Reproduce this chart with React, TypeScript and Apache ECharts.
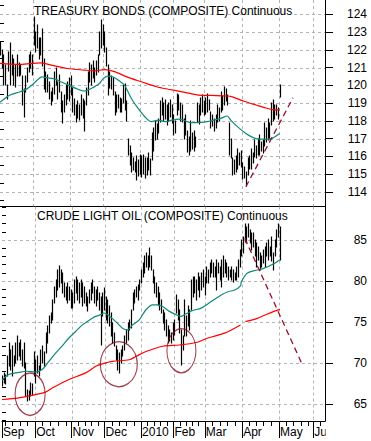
import React, { useEffect, useRef } from 'react';
import * as echarts from 'echarts';

// ---------- axis definitions ----------
const monthTicks = [0, 19.8, 41.6, 61.3, 83.1, 102.5, 121.2, 143.5, 165.5, 186];
const monthLabels = ['Sep', 'Oct', 'Nov', 'Dec', '2010', 'Feb', 'Mar', 'Apr', 'May', 'Jun'];
const weekTicks = [2, 6.4, 10.9, 15.3, 23.8, 28.7, 33.7, 38.6, 45.5, 49.5, 53.4, 57.4, 65.7, 70.1, 74.4, 78.8, 87, 90.9, 94.8, 98.6, 106.3, 110, 113.7, 117.4, 125.7, 130.2, 134.6, 139.1, 147.5, 152, 156.4, 161, 169.8, 174.2, 178.7, 183, 190];
const bondTicks = [114, 115, 116, 117, 118, 119, 120, 121, 122, 123, 124];
const bondMinorTicks = [113.5, 114.5, 115.5, 116.5, 117.5, 118.5, 119.5, 120.5, 121.5, 122.5, 123.5, 124.5];
const oilTicks = [65, 70, 75, 80, 85];
const oilMinorTicks = [63, 64, 66, 67, 68, 69, 71, 72, 73, 74, 76, 77, 78, 79, 81, 82, 83, 84, 86, 87, 88, 89];

// ---------- Treasury Bonds daily bars (high / low), one per trading day ----------
const bondHigh = [
  122.45, 122.0, 121.7, 121.15, 120.0, 121.9, 122.4, 121.7, 121.5, 121.15,
  121.7, 121.25, 121.15, 120.5, 119.8, 120.5, 120.95, 121.7, 121.9, 121.7,
  123.85, 123.0, 123.4, 122.65, 122.65, 123.2, 121.5, 120.75, 120.6, 120.2,
  119.65, 119.85, 120.75, 120.95, 120.2, 120.6, 119.65, 119.1, 119.45, 120.0,
  120.2, 120.4, 120.5, 119.85, 119.25, 118.9, 119.1, 118.9, 119.45, 119.25,
  119.1, 119.85, 120.75, 121.25, 121.15, 121.35, 120.95, 121.35, 121.7, 123.0,
  123.7, 123.4, 123.0, 122.1, 121.15, 120.75, 120.5, 120.4, 119.65, 119.45,
  119.45, 119.3, 119.25, 120.0, 120.1, 119.1, 117.0, 116.6, 116.2, 115.9,
  115.7, 116.0, 115.8, 116.1, 116.0, 116.05, 115.9, 115.9, 116.2, 115.85,
  117.3, 117.6, 118.0, 117.8, 118.1, 119.1, 119.3, 119.0, 119.2, 118.9,
  119.0, 119.2, 118.9, 118.3, 118.0, 119.5, 119.45, 119.0, 118.9, 118.1,
  118.3, 117.4, 117.1, 118.0, 117.3, 117.4, 117.1, 119.0, 118.9, 119.3,
  119.45, 119.1, 119.3, 119.5, 119.2, 118.5, 118.3, 118.1, 118.3, 118.9,
  118.7, 119.6, 119.4, 119.9, 119.8, 119.45, 117.9, 117.0, 115.9, 115.8,
  116.0, 116.4, 116.2, 116.3, 115.6, 115.4, 115.1, 115.9, 116.0, 116.4,
  116.2, 116.9, 116.6, 117.0, 117.2, 116.8, 116.9, 117.9, 117.6, 118.1,
  117.9, 119.0, 119.15, 118.9, 118.9, 118.7, 120.0,
];
const bondLow = [
  121.7, 120.95, 120.0, 120.0, 119.25, 120.8, 120.0, 120.6, 120.0, 119.9,
  120.5, 120.5, 120.6, 118.9, 118.2, 119.65, 120.2, 120.75, 120.95, 120.6,
  122.25, 121.9, 122.1, 121.5, 121.7, 121.1, 119.8, 119.65, 119.65, 119.25,
  118.9, 119.1, 119.5, 120.0, 119.25, 119.65, 118.5, 117.85, 118.5, 118.9,
  119.25, 119.1, 119.45, 118.5, 118.3, 117.95, 118.15, 118.05, 118.3, 118.15,
  117.4, 118.9, 119.45, 120.2, 120.0, 120.4, 120.2, 120.6, 120.75, 121.7,
  122.1, 122.3, 121.9, 121.1, 119.45, 119.85, 119.8, 119.45, 118.3, 118.5,
  118.7, 118.5, 118.5, 119.0, 118.6, 118.0, 116.05, 115.5, 115.1, 115.2,
  115.1, 114.65, 114.9, 115.0, 114.85, 115.0, 114.75, 114.95, 115.2, 114.95,
  115.8, 116.3, 116.9, 117.0, 117.3, 117.95, 118.3, 118.0, 118.1, 117.75,
  118.0, 118.2, 117.9, 117.2, 117.3, 118.3, 118.6, 118.0, 117.95, 117.0,
  117.2, 116.25, 116.1, 116.3, 116.4, 116.3, 116.5, 117.95, 117.8, 118.3,
  118.5, 118.3, 118.4, 118.5, 118.6, 117.6, 117.7, 117.4, 117.6, 117.95,
  118.0, 118.5, 118.6, 118.9, 119.1, 118.9, 116.1, 115.9, 114.95, 115.0,
  115.1, 115.3, 115.5, 115.4, 114.7, 114.8, 114.3, 114.95, 115.3, 115.3,
  115.6, 115.95, 115.9, 116.1, 116.1, 116.3, 116.2, 116.6, 116.8, 116.9,
  117.0, 117.75, 118.0, 118.1, 118.3, 118.1, 119.35,
];

// ---------- Crude Light Oil daily bars (high / low) ----------
const oilHigh = [
  68.4, 68.8, 68.6, 70.8, 72.45, 71.6, 72.05, 70.8, 72.45, 73.3,
  72.45, 72.85, 71.6, 72.45, 70.0, 66.75, 66.55, 67.6, 67.4, 71.4,
  70.4, 70.8, 69.6, 71.6, 72.05, 71.4, 73.65, 74.5, 75.7, 76.1,
  77.7, 79.3, 80.1, 81.35, 81.8, 81.35, 80.95, 79.7, 79.3, 79.7,
  79.3, 78.9, 78.5, 80.1, 80.5, 80.1, 79.7, 80.1, 79.7, 79.3,
  78.5, 78.1, 78.9, 79.7, 80.1, 79.3, 78.9, 79.3, 78.5, 78.1,
  78.5, 79.1, 78.1, 77.7, 76.9, 76.1, 74.9, 73.65, 72.05, 71.6,
  71.2, 71.6, 72.05, 73.25, 74.05, 74.9, 75.3, 76.5, 78.5, 78.9,
  79.3, 79.5, 80.1, 81.35, 82.2, 83.0, 83.4, 83.0, 84.0, 83.0,
  81.35, 80.5, 79.7, 79.3, 78.5, 77.7, 76.5, 76.1, 75.3, 74.5,
  74.05, 73.65, 74.9, 75.3, 78.3, 77.7, 76.5, 74.05, 73.25, 77.7,
  75.7, 76.9, 76.5, 80.1, 80.5, 80.5, 80.1, 80.95, 80.5, 80.95,
  81.35, 80.5, 81.75, 81.35, 82.2, 82.6, 82.2, 81.75, 82.6, 82.2,
  81.75, 82.6, 83.0, 82.6, 82.2, 81.75, 81.35, 81.75, 81.35, 80.95,
  81.75, 82.6, 83.8, 85.0, 85.4, 87.0, 86.6, 87.0, 86.2, 85.8,
  85.8, 85.0, 84.6, 84.2, 83.4, 83.0, 83.8, 84.2, 84.6, 85.0,
  84.2, 85.4, 83.4, 85.0, 86.2, 87.0, 86.6,
];
const oilLow = [
  67.15, 67.6, 67.4, 68.4, 69.6, 69.2, 68.4, 69.6, 70.0, 70.4,
  70.8, 70.4, 69.6, 69.4, 65.95, 65.35, 65.55, 65.95, 66.15, 68.4,
  67.6, 68.8, 68.4, 69.2, 70.0, 69.6, 71.2, 72.45, 73.65, 74.9,
  75.3, 77.3, 78.1, 78.9, 79.3, 79.7, 78.5, 78.1, 77.7, 77.3,
  77.7, 76.7, 76.7, 77.3, 78.5, 77.7, 77.3, 78.1, 76.9, 77.3,
  76.9, 76.3, 77.3, 77.7, 78.5, 77.3, 76.9, 77.7, 76.5, 72.2,
  75.7, 76.5, 75.3, 74.9, 74.5, 73.25, 72.45, 72.05, 70.4, 69.2,
  68.8, 70.0, 70.8, 71.6, 72.45, 72.85, 74.05, 74.3, 76.5, 77.3,
  78.1, 77.7, 78.9, 79.7, 80.5, 80.95, 81.75, 81.35, 81.75, 81.35,
  79.7, 78.5, 78.1, 77.1, 76.5, 76.1, 74.9, 74.05, 73.25, 72.45,
  72.65, 72.45, 72.85, 73.45, 76.1, 75.3, 73.65, 69.8, 71.6, 73.25,
  73.25, 74.5, 74.05, 76.5, 78.1, 78.5, 77.7, 78.9, 78.1, 78.9,
  79.3, 78.3, 79.7, 79.7, 80.5, 80.95, 80.5, 80.5, 78.9, 80.95,
  80.1, 79.3, 80.5, 80.95, 80.5, 80.1, 80.5, 80.1, 79.9, 80.1,
  80.1, 80.5, 81.75, 83.0, 83.4, 84.8, 84.6, 85.4, 84.6, 83.8,
  84.2, 83.0, 81.75, 82.6, 81.3, 81.75, 82.2, 81.75, 83.0, 82.6,
  83.0, 82.4, 81.3, 83.0, 84.2, 85.4, 82.6,
];

// ---------- moving averages [day index, value] ----------
const bondMAShort = [
  [0, 119.04], [6, 119.45], [12, 119.64], [16, 119.8], [20, 120.1], [25, 120.48], [28, 120.43],
  [33, 120.35], [36, 120.2], [40, 120.05], [45, 119.83], [50, 119.68], [52, 119.73], [55, 119.86],
  [59, 120.1], [61, 120.35], [64, 120.52], [67, 120.48], [71, 120.24], [74, 120.0], [78, 119.26],
  [82, 118.7], [86, 118.23], [90, 117.95], [94, 118.04], [98, 117.95], [102, 118.04], [106, 118.1],
  [109, 118.04], [113, 117.9], [117, 117.9], [123, 117.95], [127, 118.04], [131, 118.14],
  [135, 118.27], [137, 118.04], [141, 117.67], [146, 117.29], [152, 117.0], [156, 116.97],
  [161, 117.0], [166, 117.29],
];
const bondMALong = [
  [0, 121.24], [12, 121.18], [24, 121.27], [30, 121.15], [40, 120.95], [50, 120.86], [56, 120.82],
  [62, 120.88], [68, 120.77], [76, 120.45], [84, 120.2], [93, 119.92], [100, 119.78], [109, 119.62],
  [118, 119.45], [126, 119.43], [135, 119.4], [138, 119.35], [145, 119.1], [152, 118.89],
  [158, 118.72], [163, 118.62], [166, 118.62],
];
const oilMAShort = [
  [0, 67.9], [4, 68.6], [10, 68.85], [15, 69.0], [20, 68.9], [24, 69.2], [28, 70.2], [32, 71.2],
  [36, 72.1], [40, 73.05], [44, 73.85], [48, 74.65], [51, 75.05], [55, 75.6], [59, 75.9],
  [61, 76.1], [64, 75.75], [68, 75.05], [72, 74.25], [75, 74.05], [78, 74.65], [82, 75.27],
  [86, 76.5], [90, 77.1], [93, 77.1], [96, 76.9], [100, 76.3], [104, 75.9], [107, 75.7],
  [110, 76.0], [114, 76.4], [119, 76.7], [125, 77.5], [131, 78.3], [135, 78.7], [139, 78.9],
  [142.5, 79.4], [143, 79.9], [146.5, 80.95], [152.5, 81.35], [156.4, 81.55], [162.4, 82.1],
  [166, 82.6],
];
const oilMALong = [
  [0, 65.55], [10, 65.75], [20, 66.15], [26, 66.45], [30, 66.95], [40, 68.0], [50, 68.8],
  [56, 69.6], [60, 69.9], [66, 70.2], [76, 70.4], [80, 70.8], [86, 71.4], [96, 72.05],
  [106, 72.2], [116, 72.5], [123, 73.05], [133, 73.65], [142.5, 74.65], [144, null],
  [145.5, 75.05], [152.5, 75.45], [162.4, 76.3], [166, 76.55],
];

// ---------- annotations ----------
const bondTrend = [[146, 114.28], [174, 119.3]];
const oilTrend = [[145.1, 85.2], [179.1, 69.96]];
const oilCircles = [[16.8, 66.2], [69.8, 69.85], [107.2, 71.5]];

// ---------- styling ----------
const FONT = '"Liberation Sans", Arial, sans-serif';
const GRID_COLOR = '#b4b4b4';
const GREEN = '#0f8a78';
const RED = '#ff0000';
const DARK_RED = '#990f2a';
const CIRCLE_SIZES = [[30, 42], [37, 45], [29, 44]];
const X_MAX = 193;
const BOND_MIN = 113.17;
const BOND_MAX = 124.81;
const OIL_MIN = 62.93;
const OIL_MAX = 89.09;

// Bars renderer; the first item also carries the dashed panel grid (placed via the axes),
// drawn before the bars so that the bars sit on top of it.
function makeBarRenderer(hVals: number[]) {
  return (params: any, api: any) => {
    const x = api.value(0);
    const lo = api.coord([x, api.value(1)]);
    const hi = api.coord([x, api.value(2)]);
    const px = Math.round(lo[0]) + 0.5;
    const bar = {
      type: 'line',
      shape: { x1: px, y1: Math.round(lo[1]) + 0.5, x2: px, y2: Math.round(hi[1]) - 0.5 },
      style: { stroke: '#000', lineWidth: 1.2 },
    };
    if (params.dataIndex !== 0) return bar;
    const cs = params.coordSys;
    const gridStyle = { stroke: GRID_COLOR, lineWidth: 1, lineDash: [3, 3], fill: null };
    const children: any[] = [];
    monthTicks.slice(1).forEach((m) => {
      const gx = Math.round(api.coord([m, hVals[0]])[0]) + 0.5;
      children.push({ type: 'line', shape: { x1: gx, y1: cs.y, x2: gx, y2: cs.y + cs.height }, style: gridStyle });
    });
    hVals.forEach((v) => {
      const gy = Math.round(api.coord([0, v])[1]) + 0.5;
      children.push({ type: 'line', shape: { x1: cs.x, y1: gy, x2: cs.x + cs.width, y2: gy }, style: gridStyle });
    });
    children.push(bar);
    return { type: 'group', children };
  };
}

function yAxisPair(grid: number, min: number, max: number, major: number[], minor: number[]) {
  return [
    {
      type: 'value', gridIndex: grid, position: 'right', min, max,
      axisLine: { show: true, onZero: false, lineStyle: { color: '#000', width: 1 } },
      axisTick: { show: true, customValues: major, length: 8, lineStyle: { color: '#000' } },
      axisLabel: {
        show: true, customValues: major, align: 'right', margin: 42,
        color: '#000', fontSize: 12, fontFamily: FONT,
      },
      splitLine: { show: false },
    },
    {
      type: 'value', gridIndex: grid, position: 'right', min, max,
      axisLine: { show: false },
      axisTick: { show: true, customValues: minor, length: 4, lineStyle: { color: '#000' } },
      axisLabel: { show: false },
      splitLine: { show: false },
    },
  ];
}

function maLine(xi: number, yi: number, data: any[], color: string) {
  return {
    type: 'line', xAxisIndex: xi, yAxisIndex: yi, data, showSymbol: false, smooth: 0.3,
    connectNulls: false, silent: true, z: 4,
    lineStyle: { color, width: 1.2 },
  };
}

function trendLine(xi: number, yi: number, data: number[][]) {
  return {
    type: 'line', xAxisIndex: xi, yAxisIndex: yi, data, showSymbol: false, silent: true, z: 5,
    lineStyle: { color: DARK_RED, width: 1.3, type: [6, 4] },
  };
}

function buildOption() {
  const bondBars = bondHigh.map((h, i) => [i, bondLow[i], h]);
  const oilBars = oilHigh.map((h, i) => [i, oilLow[i], h]);
  const titleStyle = { fontSize: 12, fontWeight: 'normal', color: '#000', fontFamily: FONT };
  return {
    animation: false,
    title: [
      { text: 'TREASURY BONDS (COMPOSITE) Continuous', left: 34, top: 4.5, padding: 0, textStyle: titleStyle },
      { text: 'CRUDE LIGHT OIL (COMPOSITE) Continuous', left: 37, top: 209.5, padding: 0, textStyle: titleStyle },
    ],
    grid: [
      { left: 0, right: 46, top: 0, height: 206.5 },
      { left: 0, right: 46, top: 206.5, bottom: 20 },
    ],
    xAxis: [
      {
        type: 'value', gridIndex: 0, min: 0, max: X_MAX, position: 'bottom',
        axisLine: { show: true, onZero: false, lineStyle: { color: '#000', width: 1 } },
        axisTick: { show: false }, axisLabel: { show: false }, splitLine: { show: false },
      },
      {
        type: 'value', gridIndex: 1, min: 0, max: X_MAX, position: 'bottom',
        axisLine: { show: true, onZero: false, lineStyle: { color: '#000', width: 1 } },
        axisTick: { show: true, customValues: monthTicks, length: 17, lineStyle: { color: '#000' } },
        axisLabel: {
          show: true, customValues: monthTicks,
          formatter: (v: number) => {
            const k = monthTicks.indexOf(v);
            return k >= 0 ? monthLabels[k] : '';
          },
          align: 'left', margin: 5, padding: [0, 0, 0, 1],
          color: '#000', fontSize: 12, fontFamily: FONT,
        },
        splitLine: { show: false },
      },
      {
        type: 'value', gridIndex: 1, min: 0, max: X_MAX, position: 'bottom',
        axisLine: { show: false },
        axisTick: { show: true, customValues: weekTicks, length: 5, lineStyle: { color: '#000' } },
        axisLabel: { show: false }, splitLine: { show: false },
      },
    ],
    yAxis: [
      ...yAxisPair(0, BOND_MIN, BOND_MAX, bondTicks, bondMinorTicks),
      ...yAxisPair(1, OIL_MIN, OIL_MAX, oilTicks, oilMinorTicks),
    ],
    graphic: [
      { type: 'rect', z: 100, shape: { x: 325.6, y: 423, width: 46, height: 18 }, style: { fill: '#fff' } },
    ],
    series: [
      {
        type: 'custom', xAxisIndex: 0, yAxisIndex: 0, data: bondBars, renderItem: makeBarRenderer(bondTicks),
        encode: { x: 0, y: [1, 2] }, clip: true, silent: true, z: 3,
      },
      {
        type: 'custom', xAxisIndex: 1, yAxisIndex: 2, data: oilBars, renderItem: makeBarRenderer(oilTicks),
        encode: { x: 0, y: [1, 2] }, clip: true, silent: true, z: 3,
      },
      maLine(0, 0, bondMALong, RED),
      maLine(0, 0, bondMAShort, GREEN),
      maLine(1, 2, oilMALong, RED),
      maLine(1, 2, oilMAShort, GREEN),
      trendLine(0, 0, bondTrend),
      trendLine(1, 2, oilTrend),
      {
        type: 'scatter', xAxisIndex: 1, yAxisIndex: 2, data: oilCircles, silent: true, z: 6,
        symbol: 'circle',
        symbolSize: (_v: any, p: any) => CIRCLE_SIZES[p.dataIndex],
        itemStyle: { color: 'rgba(0,0,0,0)', borderColor: '#8b1020', borderWidth: 1.3 },
      },
    ],
  };
}

export default function App() {
  const ref = useRef<HTMLDivElement>(null);
  useEffect(() => {
    const chart = echarts.init(ref.current as HTMLDivElement, undefined, { renderer: 'svg' });
    chart.setOption(buildOption() as any);
    return () => chart.dispose();
  }, []);
  return (
    <div
      ref={ref}
      style={{ position: 'absolute', left: 0, top: 0, width: 371, height: 441, background: '#fff' }}
    />
  );
}
